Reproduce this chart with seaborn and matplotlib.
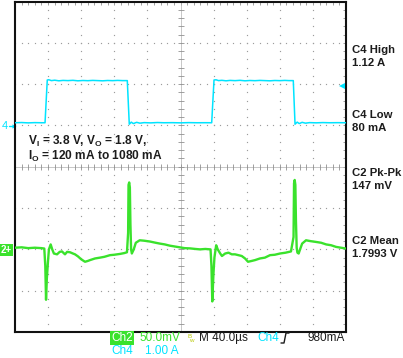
import numpy as np
import pandas as pd
import matplotlib
matplotlib.use("Agg")
import matplotlib.pyplot as plt
from matplotlib.lines import Line2D
import seaborn as sns

# Ch4 (load current, A) vs time (us)
ch4_time = [0, 8, 16, 24, 32, 36.3, 39.0,
            41, 44, 48, 53, 58, 64, 70, 76, 82, 88, 94, 100, 106, 112, 118, 124, 130,
            135.7, 138.1, 140.5, 143, 147, 151,
            156, 164, 172, 180, 190, 200, 210, 220, 230, 237.7, 240.5,
            243, 246, 250, 255, 260, 266, 272, 278, 284, 290, 296, 302, 308, 314, 320, 326, 331,
            336.3, 338.4, 341, 343.5, 347, 351,
            356, 364, 372, 380, 390, 400]
ch4_amps = [0.085, 0.09, 0.082, 0.088, 0.085, 0.085, 1.12,
            1.125, 1.105, 1.115, 1.10, 1.11, 1.105, 1.112, 1.10, 1.108, 1.103, 1.11, 1.105, 1.10, 1.108, 1.104, 1.11, 1.105,
            1.105, 0.05, 0.10, 0.065, 0.095, 0.075,
            0.088, 0.082, 0.09, 0.085, 0.087, 0.083, 0.088, 0.085, 0.086, 0.085, 1.12,
            1.125, 1.105, 1.112, 1.10, 1.11, 1.104, 1.112, 1.10, 1.108, 1.103, 1.11, 1.105, 1.10, 1.108, 1.104, 1.11, 1.105,
            1.105, 0.05, 0.10, 0.065, 0.095, 0.075,
            0.088, 0.083, 0.089, 0.085, 0.087, 0.085]

# Ch2 (output voltage ripple, mV around 1.8 V) vs time (us)
ch2_time = [0, 8, 16, 24, 32, 35.4, 36.6, 37.5, 38.5, 39.9, 41, 43.1, 45, 47, 50.8, 54, 56.8, 60.4,
            63, 66.5, 70, 72.5, 76.1, 80, 84.6, 88, 90.6, 96.7, 102.7, 108, 114.8, 120, 126.9,
            132, 135.3, 136.7, 137.2, 138.0, 138.8, 139.5, 140.3, 141.2, 143.5, 146, 150.7,
            156, 163, 170, 175, 181, 187, 193, 199, 205, 211.5, 218, 223.6, 230, 236.3,
            237.4, 238.4, 239.8, 241, 243.1, 245, 248, 250.1, 254, 258, 262, 265.9, 270, 274,
            278, 281.6, 286, 290, 296, 302, 308.2, 314, 320.3, 327, 333.5, 336.6, 337.2, 338.0,
            338.8, 339.5, 340.4, 341.3, 342.8, 344.5, 347, 351.7, 357, 363.8, 370, 376, 382,
            388, 394, 400]
ch2_mv = [2, 2.5, 1.5, 2, 1.5, 1, -20, -61, -35, -14, 0, 6, 0, -5, -6, -3, -2.5, -6,
          -3, -3.5, -5, -6, -8.5, -12, -15, -14, -13, -11, -10, -9, -7, -6.5, -5.5,
          -4.5, -3.5, 20, 78, 81, 75, 30, 0, -5, 0, 8, 11,
          10.5, 9.5, 8, 7, 6, 4.5, 3.5, 2.5, 1.5, 1.2, 0.5, 0, 0.5, 0,
          -20, -63, -30, -10, 5, 0, -5, -8, -5, -4, -6, -6, -7, -8,
          -11, -15, -14, -13, -11, -10, -7, -6.5, -5, -4, -2.5, 15, 80, 84,
          78, 35, 2, -4, -5, 0, 7, 11, 10, 9, 8, 6, 5,
          3, 2, 1]

ch4_offset = 0.98   # divisions
ch2_offset = -2.0   # divisions
ch4_scale = 1.0     # A/div
ch2_scale = 50.0    # mV/div

right_labels = [("C4 High", "1.12 A"), ("C4 Low", "80 mA"),
                ("C2 Pk-Pk", "147 mV"), ("C2 Mean", "1.7993 V")]

CYAN = "#00E4FF"
GREEN = "#3AE22C"
DOT = "#9c9c9c"
INK = "#1c1c1c"

W, H = 403, 358


def fx(x):
    return x / W


def fy(y):
    return 1 - y / H


sns.set_style("white")
plt.rcParams["font.family"] = ["Liberation Sans", "DejaVu Sans"]
plt.rcParams["mathtext.fontset"] = "custom"
plt.rcParams["mathtext.bf"] = "Liberation Sans:bold"
plt.rcParams["mathtext.rm"] = "Liberation Sans:bold"

fig = plt.figure(figsize=(W / 100, H / 100), dpi=100)
ax = fig.add_axes([fx(15), fy(332), 331 / W, 330.5 / H])
ax.set_xlim(0, 400)
ax.set_ylim(-4, 4)

# graticule: dotted lines at every division, dots on the minor steps
x_minor = np.arange(0, 400.1, 8)
y_minor = np.arange(-4, 4.01, 0.2)
for xv in range(40, 400, 40):
    if xv == 200:
        continue
    ax.plot(np.full(len(y_minor), xv), y_minor, ls="none", marker="s", ms=0.85, mew=0, color=DOT, zorder=1)
for yv in range(-3, 4):
    if yv == 0:
        continue
    ax.plot(x_minor, np.full(len(x_minor), yv), ls="none", marker="s", ms=0.85, mew=0, color=DOT, zorder=1)

# centre cross with tick marks
ax.axhline(0, color="#b0b0b0", lw=0.5, zorder=1)
ax.axvline(200, color="#b0b0b0", lw=0.5, zorder=1)
ax.plot(x_minor, np.zeros(len(x_minor)), ls="none", marker="|", ms=4.5, mew=0.6, color="#909090", zorder=1)
ax.plot(np.full(len(y_minor), 200), y_minor, ls="none", marker="_", ms=4.5, mew=0.6, color="#909090", zorder=1)

# frame ticks
ax.set_xticks(np.arange(0, 401, 40))
ax.set_xticks(x_minor, minor=True)
ax.set_yticks(np.arange(-4, 5, 1))
ax.set_yticks(y_minor, minor=True)
ax.tick_params(which="both", direction="in", length=2.5, width=0.6, color="#909090",
               top=True, right=True, labelbottom=False, labelleft=False)
for sp in ax.spines.values():
    sp.set_color("#111111")
    sp.set_linewidth(1.5)

# traces
df4 = pd.DataFrame({"t": ch4_time, "div": np.array(ch4_amps) / ch4_scale + ch4_offset})
df2 = pd.DataFrame({"t": ch2_time, "div": np.array(ch2_mv) / ch2_scale + ch2_offset})
sns.lineplot(data=df4, x="t", y="div", ax=ax, color=CYAN, lw=1.1, sort=False, estimator=None, zorder=3)
sns.lineplot(data=df2, x="t", y="div", ax=ax, color=GREEN, lw=1.7, sort=False, estimator=None, zorder=3)
ax.set_xlabel("")
ax.set_ylabel("")

# trigger level marker on the right edge
trig = 0.98 / ch4_scale + ch4_offset
ax.plot([395], [trig], marker="<", ms=4, mew=0, color=CYAN, zorder=4)

# channel ground markers on the left
ax.plot([-7, -1], [ch4_offset, ch4_offset], color=CYAN, lw=1.0, clip_on=False)
ax.plot([-1.5], [ch4_offset], marker=">", ms=3, mew=0, color=CYAN, clip_on=False)
fig.text(fx(2), fy(126), "4", color=CYAN, fontsize=8, va="center")
fig.text(fx(1), fy(250), "2+", color="white", fontsize=7, fontweight="bold", va="center",
         bbox=dict(boxstyle="square,pad=0.1", fc=GREEN, ec="none"))

# annotation inside the screen
fig.text(fx(28), fy(141), r"V$_{\mathbf{I}}$ = 3.8 V, V$_{\mathbf{O}}$ = 1.8 V,",
         fontsize=8.6, fontweight="bold", color=INK, va="center")
fig.text(fx(28), fy(156), r"I$_{\mathbf{O}}$ = 120 mA to 1080 mA",
         fontsize=8.6, fontweight="bold", color=INK, va="center")

# measurement readouts
label_y = [50, 115, 173, 241]
for (name, val), yy in zip(right_labels, label_y):
    fig.text(fx(352), fy(yy), name, fontsize=8.2, fontweight="bold", color=INK, va="center")
    fig.text(fx(352), fy(yy + 13), val, fontsize=8.2, fontweight="bold", color=INK, va="center")

# status line under the screen
fig.text(fx(111), fy(338), "Ch2", color="white", fontsize=8.5, va="center",
         bbox=dict(boxstyle="square,pad=0.1", fc=GREEN, ec="none"))
fig.text(fx(139), fy(338), "50.0mV", color=GREEN, fontsize=8.5, va="center")
fig.text(fx(187), fy(336), "B", color="#b8c800", fontsize=4.5, va="center")
fig.text(fx(189), fy(341), "w", color="#b8c800", fontsize=4.5, va="center")
fig.text(fx(199), fy(338), "M 40.0\u00b5s", color=INK, fontsize=8.5, va="center")
fig.text(fx(257), fy(338), "Ch4", color=CYAN, fontsize=8.5, va="center")
edge_x = [281, 284, 286, 289]
edge_y = [343, 343, 333, 333]
fig.add_artist(Line2D([fx(v) for v in edge_x], [fy(v) for v in edge_y], color=INK, lw=1.0))
fig.text(fx(307), fy(338), "980mA", color=INK, fontsize=8.5, va="center")
fig.text(fx(111), fy(351), "Ch4", color=CYAN, fontsize=8.5, va="center")
fig.text(fx(145), fy(351), "1.00 A", color=CYAN, fontsize=8.5, va="center")

fig.savefig("out.png", dpi=100, facecolor="white")
